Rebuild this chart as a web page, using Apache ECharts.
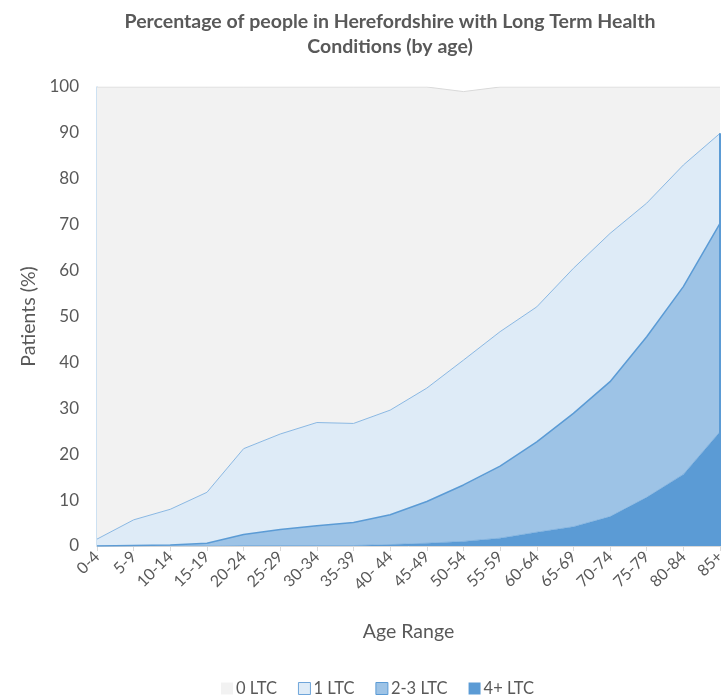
<!DOCTYPE html>
<html>
<head>
<meta charset="utf-8">
<script src="https://cdn.jsdelivr.net/npm/echarts@6/dist/echarts.min.js"></script>
<style>
  html, body { margin: 0; padding: 0; background: #ffffff; }
  #chart { width: 722px; height: 696px; }
</style>
</head>
<body>
<div id="chart"></div>
<script>
// Age bands on the x axis
const ageRanges = ['0-4', '5-9', '10-14', '15-19', '20-24', '25-29', '30-34', '35-39', '40- 44',
  '45-49', '50-54', '55-59', '60-64', '65-69', '70-74', '75-79', '80-84', '85+'];

// Share of patients (%) in each band, by number of long term conditions
const ltc4plus = [0, 0, 0, 0, 0.1, 0.1, 0.1, 0.1, 0.3, 0.6, 1.0, 1.7, 3.0, 4.2, 6.4, 10.6, 15.6, 24.9];
const ltc2to3  = [0, 0.1, 0.2, 0.6, 2.4, 3.5, 4.3, 5.0, 6.5, 9.1, 12.3, 15.7, 19.7, 24.7, 29.4, 35.0, 40.9, 45.4];
const ltc1     = [1.5, 5.6, 7.8, 11.1, 18.7, 20.8, 22.5, 21.6, 22.8, 24.7, 27.2, 29.3, 29.4, 31.6, 32.3, 29.1, 26.5, 19.6];
const ltc0     = [98.5, 94.3, 92.0, 88.3, 78.8, 75.6, 73.1, 73.3, 70.4, 65.6, 58.5, 53.3, 47.9, 39.5, 31.9, 25.3, 17.0, 10.1];

// Y axis ticks
const yTicks = [0, 10, 20, 30, 40, 50, 60, 70, 80, 90, 100];

const FONT = 'Lato, "Open Sans", sans-serif';
const TEXT = '#595959';

const last = ageRanges.length - 1;
const topWithLtc = ltc4plus[last] + ltc2to3[last] + ltc1[last];

const chart = echarts.init(document.getElementById('chart'), null, { renderer: 'canvas' });

chart.setOption({
  backgroundColor: '#ffffff',
  animation: false,
  textStyle: { fontFamily: FONT },
  title: {
    text: 'Percentage of people in Herefordshire with Long Term Health\nConditions (by age)',
    left: 385,
    top: 4,
    textAlign: 'center',
    textStyle: { fontFamily: FONT, fontSize: 19.5, fontWeight: 'bold', color: TEXT, lineHeight: 25 }
  },
  legend: {
    top: 680,
    left: 221,
    padding: 0,
    icon: 'rect',
    itemWidth: 12,
    itemHeight: 12,
    itemGap: 21,
    textStyle: { fontFamily: FONT, fontSize: 16.5, color: TEXT, padding: [0, 0, 0, -2] },
    data: [
      { name: '0 LTC', itemStyle: { color: '#f2f2f2', borderWidth: 0 } },
      { name: '1 LTC', itemStyle: { color: '#deebf7', borderColor: '#6fa5da', borderWidth: 1 } },
      { name: '2-3 LTC', itemStyle: { color: '#9dc3e6', borderColor: '#5b9bd5', borderWidth: 1 } },
      { name: '4+ LTC', itemStyle: { color: '#5b9bd5', borderWidth: 0 } }
    ]
  },
  grid: { left: 97, right: 2, top: 87, bottom: 150, containLabel: false, outerBoundsMode: 'none' },
  xAxis: {
    type: 'category',
    data: ageRanges,
    boundaryGap: false,
    name: 'Age Range',
    nameLocation: 'middle',
    nameGap: 76,
    nameTextStyle: { fontFamily: FONT, fontSize: 19.5, color: TEXT },
    axisLine: { show: true, lineStyle: { color: '#d9d9d9', width: 1 } },
    axisTick: { show: true, length: 5, lineStyle: { color: '#d9d9d9' } },
    axisLabel: { rotate: 45, fontFamily: FONT, fontSize: 16, color: TEXT, margin: 8, interval: 0 },
    splitLine: { show: false }
  },
  yAxis: {
    type: 'value',
    min: yTicks[0],
    max: yTicks[yTicks.length - 1],
    interval: yTicks[1] - yTicks[0],
    name: 'Patients (%)',
    nameLocation: 'middle',
    nameGap: 54,
    nameTextStyle: { fontFamily: FONT, fontSize: 19.5, color: TEXT },
    axisLine: { show: true, lineStyle: { color: '#bdd7ee', width: 1.5 } },
    axisTick: { show: false },
    axisLabel: { fontFamily: FONT, fontSize: 17, color: TEXT, margin: 18 },
    splitLine: { show: false }
  },
  series: [
    {
      name: '4+ LTC', type: 'line', stack: 'ltc', data: ltc4plus,
      showSymbol: false, symbol: 'none',
      lineStyle: { color: '#5b9bd5', width: 0.5 },
      itemStyle: { color: '#5b9bd5' },
      areaStyle: { color: '#5b9bd5', opacity: 1 }
    },
    {
      name: '2-3 LTC', type: 'line', stack: 'ltc', data: ltc2to3,
      showSymbol: false, symbol: 'none',
      lineStyle: { color: '#5b9bd5', width: 1.5 },
      itemStyle: { color: '#9dc3e6' },
      areaStyle: { color: '#9dc3e6', opacity: 1 }
    },
    {
      name: '1 LTC', type: 'line', stack: 'ltc', data: ltc1,
      showSymbol: false, symbol: 'none',
      lineStyle: { color: '#8ab8e3', width: 1 },
      itemStyle: { color: '#deebf7' },
      areaStyle: { color: '#deebf7', opacity: 1 },
      markLine: {
        silent: true,
        symbol: 'none',
        label: { show: false },
        lineStyle: { color: '#5b9bd5', width: 2, type: 'solid' },
        data: [[
          { coord: [ageRanges[last], 0] },
          { coord: [ageRanges[last], topWithLtc] }
        ]]
      }
    },
    {
      name: '0 LTC', type: 'line', stack: 'ltc', data: ltc0,
      showSymbol: false, symbol: 'none',
      lineStyle: { color: '#d9d9d9', width: 1 },
      itemStyle: { color: '#f2f2f2' },
      areaStyle: { color: '#f2f2f2', opacity: 1 }
    }
  ]
});
</script>
</body>
</html>
